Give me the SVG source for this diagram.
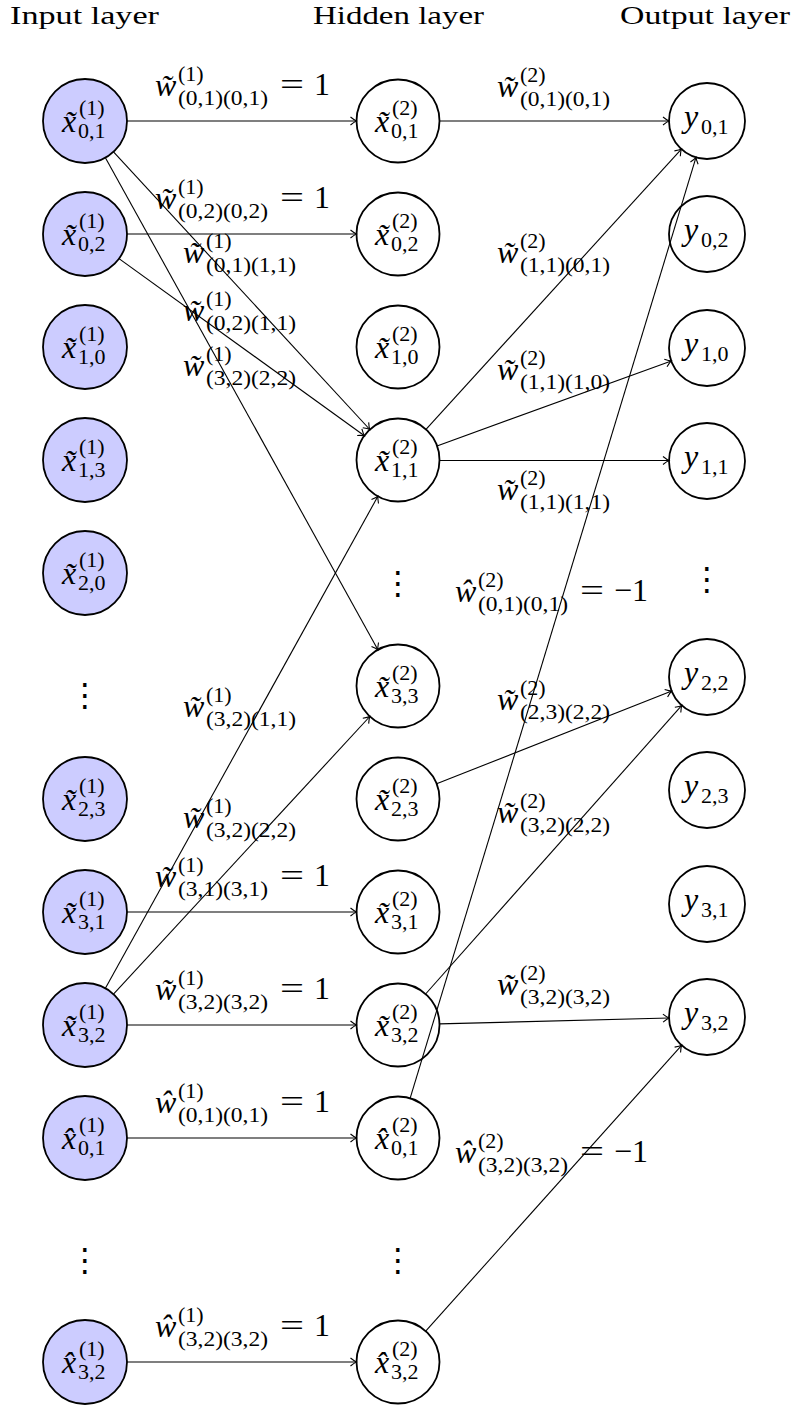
<svg xmlns="http://www.w3.org/2000/svg" width="799" height="1407" viewBox="0 0 799 1407">
<style>
.in{fill:#ccccff;stroke:#000;stroke-width:1.8}
.nd{fill:#fff;stroke:#000;stroke-width:1.8}
text{font-family:"Liberation Serif",serif;fill:#000;font-size:32px}
.mi{font-style:italic;font-size:32px}
.sc{font-size:22px;font-style:normal}
.rm{font-size:32px;font-style:normal}
.hd{font-size:26px}
.dots{font-family:"DejaVu Sans",sans-serif;font-size:32px;text-anchor:middle}
.e{stroke:#000;stroke-width:1.1;fill:none;marker-end:url(#arr)}
</style>
<defs>
<marker id="arr" viewBox="-8 -6 10 12" markerWidth="10" markerHeight="12" refX="0" refY="0" orient="auto" markerUnits="userSpaceOnUse" overflow="visible">
<path d="M-6,-4 Q-2,-0.8 0,0 Q-2,0.8 -6,4" fill="none" stroke="#000" stroke-width="1.1"/>
</marker>
</defs>
<rect width="799" height="1407" fill="#fff"/>
<g id="headers">
<text class="hd" x="10" y="24" textLength="149" lengthAdjust="spacingAndGlyphs">Input layer</text>
<text class="hd" x="313" y="24" textLength="171" lengthAdjust="spacingAndGlyphs">Hidden layer</text>
<text class="hd" x="620" y="24" textLength="170" lengthAdjust="spacingAndGlyphs">Output layer</text>
</g>
<g id="input-layer">
<g id="in-x01"><circle class="in" cx="85" cy="121" r="42"/><text x="62" y="132"><tspan class="mi">x̃</tspan><tspan class="sc" x="79" y="115">(1)</tspan><tspan class="sc" x="78" y="138">0,1</tspan></text></g>
<g id="in-x02"><circle class="in" cx="85" cy="234" r="42"/><text x="62" y="245"><tspan class="mi">x̃</tspan><tspan class="sc" x="79" y="228">(1)</tspan><tspan class="sc" x="78" y="251">0,2</tspan></text></g>
<g id="in-x10"><circle class="in" cx="85" cy="347" r="42"/><text x="62" y="358"><tspan class="mi">x̃</tspan><tspan class="sc" x="79" y="341">(1)</tspan><tspan class="sc" x="78" y="364">1,0</tspan></text></g>
<g id="in-x13"><circle class="in" cx="85" cy="460" r="42"/><text x="62" y="471"><tspan class="mi">x̃</tspan><tspan class="sc" x="79" y="454">(1)</tspan><tspan class="sc" x="78" y="477">1,3</tspan></text></g>
<g id="in-x20"><circle class="in" cx="85" cy="573" r="42"/><text x="62" y="584"><tspan class="mi">x̃</tspan><tspan class="sc" x="79" y="567">(1)</tspan><tspan class="sc" x="78" y="590">2,0</tspan></text></g>
<g id="in-dots1"><text class="dots" x="85" y="706">⋮</text></g>
<g id="in-x23"><circle class="in" cx="85" cy="799" r="42"/><text x="62" y="810"><tspan class="mi">x̃</tspan><tspan class="sc" x="79" y="793">(1)</tspan><tspan class="sc" x="78" y="816">2,3</tspan></text></g>
<g id="in-x31"><circle class="in" cx="85" cy="912" r="42"/><text x="62" y="923"><tspan class="mi">x̃</tspan><tspan class="sc" x="79" y="906">(1)</tspan><tspan class="sc" x="78" y="929">3,1</tspan></text></g>
<g id="in-x32"><circle class="in" cx="85" cy="1025" r="42"/><text x="62" y="1036"><tspan class="mi">x̃</tspan><tspan class="sc" x="79" y="1019">(1)</tspan><tspan class="sc" x="78" y="1042">3,2</tspan></text></g>
<g id="in-xh01"><circle class="in" cx="85" cy="1138" r="42"/><text x="62" y="1149"><tspan class="mi">x̂</tspan><tspan class="sc" x="79" y="1132">(1)</tspan><tspan class="sc" x="78" y="1155">0,1</tspan></text></g>
<g id="in-dots2"><text class="dots" x="85" y="1271">⋮</text></g>
<g id="in-xh32"><circle class="in" cx="85" cy="1362" r="42"/><text x="62" y="1373"><tspan class="mi">x̂</tspan><tspan class="sc" x="79" y="1356">(1)</tspan><tspan class="sc" x="78" y="1379">3,2</tspan></text></g>
</g>
<g id="hidden-layer">
<g id="hid-x01"><circle class="nd" cx="398" cy="121" r="41.5"/><text x="375" y="132"><tspan class="mi">x̃</tspan><tspan class="sc" x="392" y="115">(2)</tspan><tspan class="sc" x="391" y="138">0,1</tspan></text></g>
<g id="hid-x02"><circle class="nd" cx="398" cy="234" r="41.5"/><text x="375" y="245"><tspan class="mi">x̃</tspan><tspan class="sc" x="392" y="228">(2)</tspan><tspan class="sc" x="391" y="251">0,2</tspan></text></g>
<g id="hid-x10"><circle class="nd" cx="398" cy="347" r="41.5"/><text x="375" y="358"><tspan class="mi">x̃</tspan><tspan class="sc" x="392" y="341">(2)</tspan><tspan class="sc" x="391" y="364">1,0</tspan></text></g>
<g id="hid-x11"><circle class="nd" cx="398" cy="460" r="41.5"/><text x="375" y="471"><tspan class="mi">x̃</tspan><tspan class="sc" x="392" y="454">(2)</tspan><tspan class="sc" x="391" y="477">1,1</tspan></text></g>
<g id="hid-dots1"><text class="dots" x="398" y="594">⋮</text></g>
<g id="hid-x33"><circle class="nd" cx="398" cy="686" r="41.5"/><text x="375" y="697"><tspan class="mi">x̃</tspan><tspan class="sc" x="392" y="680">(2)</tspan><tspan class="sc" x="391" y="703">3,3</tspan></text></g>
<g id="hid-x23"><circle class="nd" cx="398" cy="799" r="41.5"/><text x="375" y="810"><tspan class="mi">x̃</tspan><tspan class="sc" x="392" y="793">(2)</tspan><tspan class="sc" x="391" y="816">2,3</tspan></text></g>
<g id="hid-x31"><circle class="nd" cx="398" cy="912" r="41.5"/><text x="375" y="923"><tspan class="mi">x̃</tspan><tspan class="sc" x="392" y="906">(2)</tspan><tspan class="sc" x="391" y="929">3,1</tspan></text></g>
<g id="hid-x32"><circle class="nd" cx="398" cy="1025" r="41.5"/><text x="375" y="1036"><tspan class="mi">x̃</tspan><tspan class="sc" x="392" y="1019">(2)</tspan><tspan class="sc" x="391" y="1042">3,2</tspan></text></g>
<g id="hid-xh01"><circle class="nd" cx="398" cy="1138" r="41.5"/><text x="375" y="1149"><tspan class="mi">x̂</tspan><tspan class="sc" x="392" y="1132">(2)</tspan><tspan class="sc" x="391" y="1155">0,1</tspan></text></g>
<g id="hid-dots2"><text class="dots" x="398" y="1271">⋮</text></g>
<g id="hid-xh32"><circle class="nd" cx="398" cy="1362" r="41.5"/><text x="375" y="1373"><tspan class="mi">x̂</tspan><tspan class="sc" x="392" y="1356">(2)</tspan><tspan class="sc" x="391" y="1379">3,2</tspan></text></g>
</g>
<g id="output-layer">
<g id="out-y01"><circle class="nd" cx="707" cy="121" r="38"/><text x="684" y="127"><tspan class="mi">y</tspan><tspan class="sc" x="701" y="134">0,1</tspan></text></g>
<g id="out-y02"><circle class="nd" cx="707" cy="234" r="38"/><text x="684" y="240"><tspan class="mi">y</tspan><tspan class="sc" x="701" y="247">0,2</tspan></text></g>
<g id="out-y10"><circle class="nd" cx="707" cy="348" r="38"/><text x="684" y="354"><tspan class="mi">y</tspan><tspan class="sc" x="701" y="361">1,0</tspan></text></g>
<g id="out-y11"><circle class="nd" cx="707" cy="461" r="38"/><text x="684" y="467"><tspan class="mi">y</tspan><tspan class="sc" x="701" y="474">1,1</tspan></text></g>
<g id="out-dots"><text class="dots" x="707" y="590">⋮</text></g>
<g id="out-y22"><circle class="nd" cx="707" cy="677" r="38"/><text x="684" y="683"><tspan class="mi">y</tspan><tspan class="sc" x="701" y="690">2,2</tspan></text></g>
<g id="out-y23"><circle class="nd" cx="707" cy="790" r="38"/><text x="684" y="796"><tspan class="mi">y</tspan><tspan class="sc" x="701" y="803">2,3</tspan></text></g>
<g id="out-y31"><circle class="nd" cx="707" cy="904" r="38"/><text x="684" y="910"><tspan class="mi">y</tspan><tspan class="sc" x="701" y="917">3,1</tspan></text></g>
<g id="out-y32"><circle class="nd" cx="707" cy="1017" r="38"/><text x="684" y="1023"><tspan class="mi">y</tspan><tspan class="sc" x="701" y="1030">3,2</tspan></text></g>
</g>
<g id="connectors">
<line class="e" x1="127" y1="121" x2="356.5" y2="121"/>
<line class="e" x1="127" y1="234" x2="356.5" y2="234"/>
<line class="e" x1="113.5" y1="151.9" x2="369.8" y2="429.5"/>
<line class="e" x1="105.4" y1="157.7" x2="377.9" y2="649.7"/>
<line class="e" x1="119" y1="258.6" x2="364.4" y2="435.7"/>
<line class="e" x1="105.4" y1="988.3" x2="377.9" y2="496.3"/>
<line class="e" x1="113.5" y1="994.1" x2="369.8" y2="716.5"/>
<line class="e" x1="127" y1="912" x2="356.5" y2="912"/>
<line class="e" x1="127" y1="1025" x2="356.5" y2="1025"/>
<line class="e" x1="127" y1="1138" x2="356.5" y2="1138"/>
<line class="e" x1="127" y1="1362" x2="356.5" y2="1362"/>
<line class="e" x1="439.5" y1="121" x2="669" y2="121"/>
<line class="e" x1="426" y1="429.3" x2="681.4" y2="149.1"/>
<line class="e" x1="437" y1="445.9" x2="671.3" y2="360.9"/>
<line class="e" x1="439.5" y1="460.5" x2="669" y2="460.5"/>
<line class="e" x1="410.1" y1="1098.3" x2="696" y2="157.4"/>
<line class="e" x1="436.6" y1="783.8" x2="671.7" y2="691"/>
<line class="e" x1="425.6" y1="994" x2="681.8" y2="705.4"/>
<line class="e" x1="439.5" y1="1023.9" x2="669" y2="1018"/>
<line class="e" x1="425.7" y1="1331.1" x2="681.6" y2="1045.3"/>
</g>
<g id="edge-labels">
<text x="155" y="96"><tspan class="mi">w̃</tspan><tspan class="sc" x="178" y="81">(1)</tspan><tspan class="sc" x="178" y="105" textLength="90" lengthAdjust="spacingAndGlyphs">(0,1)(0,1)</tspan><tspan class="rm" x="280" y="95" textLength="24" lengthAdjust="spacingAndGlyphs">=</tspan><tspan class="rm" x="314" y="95">1</tspan></text>
<text x="155" y="209"><tspan class="mi">w̃</tspan><tspan class="sc" x="178" y="194">(1)</tspan><tspan class="sc" x="178" y="218" textLength="90" lengthAdjust="spacingAndGlyphs">(0,2)(0,2)</tspan><tspan class="rm" x="280" y="208" textLength="24" lengthAdjust="spacingAndGlyphs">=</tspan><tspan class="rm" x="314" y="208">1</tspan></text>
<text x="183" y="263"><tspan class="mi">w̃</tspan><tspan class="sc" x="206" y="248">(1)</tspan><tspan class="sc" x="206" y="272" textLength="90" lengthAdjust="spacingAndGlyphs">(0,1)(1,1)</tspan></text>
<text x="183" y="321"><tspan class="mi">w̃</tspan><tspan class="sc" x="206" y="306">(1)</tspan><tspan class="sc" x="206" y="330" textLength="90" lengthAdjust="spacingAndGlyphs">(0,2)(1,1)</tspan></text>
<text x="183" y="376"><tspan class="mi">w̃</tspan><tspan class="sc" x="206" y="361">(1)</tspan><tspan class="sc" x="206" y="385" textLength="90" lengthAdjust="spacingAndGlyphs">(3,2)(2,2)</tspan></text>
<text x="183" y="717"><tspan class="mi">w̃</tspan><tspan class="sc" x="206" y="702">(1)</tspan><tspan class="sc" x="206" y="726" textLength="90" lengthAdjust="spacingAndGlyphs">(3,2)(1,1)</tspan></text>
<text x="183" y="828"><tspan class="mi">w̃</tspan><tspan class="sc" x="206" y="813">(1)</tspan><tspan class="sc" x="206" y="837" textLength="90" lengthAdjust="spacingAndGlyphs">(3,2)(2,2)</tspan></text>
<text x="155" y="887"><tspan class="mi">w̃</tspan><tspan class="sc" x="178" y="872">(1)</tspan><tspan class="sc" x="178" y="896" textLength="90" lengthAdjust="spacingAndGlyphs">(3,1)(3,1)</tspan><tspan class="rm" x="280" y="886" textLength="24" lengthAdjust="spacingAndGlyphs">=</tspan><tspan class="rm" x="314" y="886">1</tspan></text>
<text x="155" y="1000"><tspan class="mi">w̃</tspan><tspan class="sc" x="178" y="985">(1)</tspan><tspan class="sc" x="178" y="1009" textLength="90" lengthAdjust="spacingAndGlyphs">(3,2)(3,2)</tspan><tspan class="rm" x="280" y="999" textLength="24" lengthAdjust="spacingAndGlyphs">=</tspan><tspan class="rm" x="314" y="999">1</tspan></text>
<text x="155" y="1113"><tspan class="mi">ŵ</tspan><tspan class="sc" x="178" y="1098">(1)</tspan><tspan class="sc" x="178" y="1122" textLength="90" lengthAdjust="spacingAndGlyphs">(0,1)(0,1)</tspan><tspan class="rm" x="280" y="1112" textLength="24" lengthAdjust="spacingAndGlyphs">=</tspan><tspan class="rm" x="314" y="1112">1</tspan></text>
<text x="155" y="1337"><tspan class="mi">ŵ</tspan><tspan class="sc" x="178" y="1322">(1)</tspan><tspan class="sc" x="178" y="1346" textLength="90" lengthAdjust="spacingAndGlyphs">(3,2)(3,2)</tspan><tspan class="rm" x="280" y="1336" textLength="24" lengthAdjust="spacingAndGlyphs">=</tspan><tspan class="rm" x="314" y="1336">1</tspan></text>
<text x="497" y="97"><tspan class="mi">w̃</tspan><tspan class="sc" x="520" y="82">(2)</tspan><tspan class="sc" x="520" y="106" textLength="90" lengthAdjust="spacingAndGlyphs">(0,1)(0,1)</tspan></text>
<text x="497" y="263"><tspan class="mi">w̃</tspan><tspan class="sc" x="520" y="248">(2)</tspan><tspan class="sc" x="520" y="272" textLength="90" lengthAdjust="spacingAndGlyphs">(1,1)(0,1)</tspan></text>
<text x="497" y="380"><tspan class="mi">w̃</tspan><tspan class="sc" x="520" y="365">(2)</tspan><tspan class="sc" x="520" y="389" textLength="90" lengthAdjust="spacingAndGlyphs">(1,1)(1,0)</tspan></text>
<text x="497" y="500"><tspan class="mi">w̃</tspan><tspan class="sc" x="520" y="485">(2)</tspan><tspan class="sc" x="520" y="509" textLength="90" lengthAdjust="spacingAndGlyphs">(1,1)(1,1)</tspan></text>
<text x="455" y="602"><tspan class="mi">ŵ</tspan><tspan class="sc" x="478" y="587">(2)</tspan><tspan class="sc" x="478" y="611" textLength="90" lengthAdjust="spacingAndGlyphs">(0,1)(0,1)</tspan><tspan class="rm" x="580" y="601" textLength="24" lengthAdjust="spacingAndGlyphs">=</tspan><tspan class="rm" x="614" y="601">−1</tspan></text>
<text x="497" y="710"><tspan class="mi">w̃</tspan><tspan class="sc" x="520" y="695">(2)</tspan><tspan class="sc" x="520" y="719" textLength="90" lengthAdjust="spacingAndGlyphs">(2,3)(2,2)</tspan></text>
<text x="497" y="823"><tspan class="mi">w̃</tspan><tspan class="sc" x="520" y="808">(2)</tspan><tspan class="sc" x="520" y="832" textLength="90" lengthAdjust="spacingAndGlyphs">(3,2)(2,2)</tspan></text>
<text x="497" y="995"><tspan class="mi">w̃</tspan><tspan class="sc" x="520" y="980">(2)</tspan><tspan class="sc" x="520" y="1004" textLength="90" lengthAdjust="spacingAndGlyphs">(3,2)(3,2)</tspan></text>
<text x="455" y="1163"><tspan class="mi">ŵ</tspan><tspan class="sc" x="478" y="1148">(2)</tspan><tspan class="sc" x="478" y="1172" textLength="90" lengthAdjust="spacingAndGlyphs">(3,2)(3,2)</tspan><tspan class="rm" x="580" y="1162" textLength="24" lengthAdjust="spacingAndGlyphs">=</tspan><tspan class="rm" x="614" y="1162">−1</tspan></text>
</g>
</svg>
